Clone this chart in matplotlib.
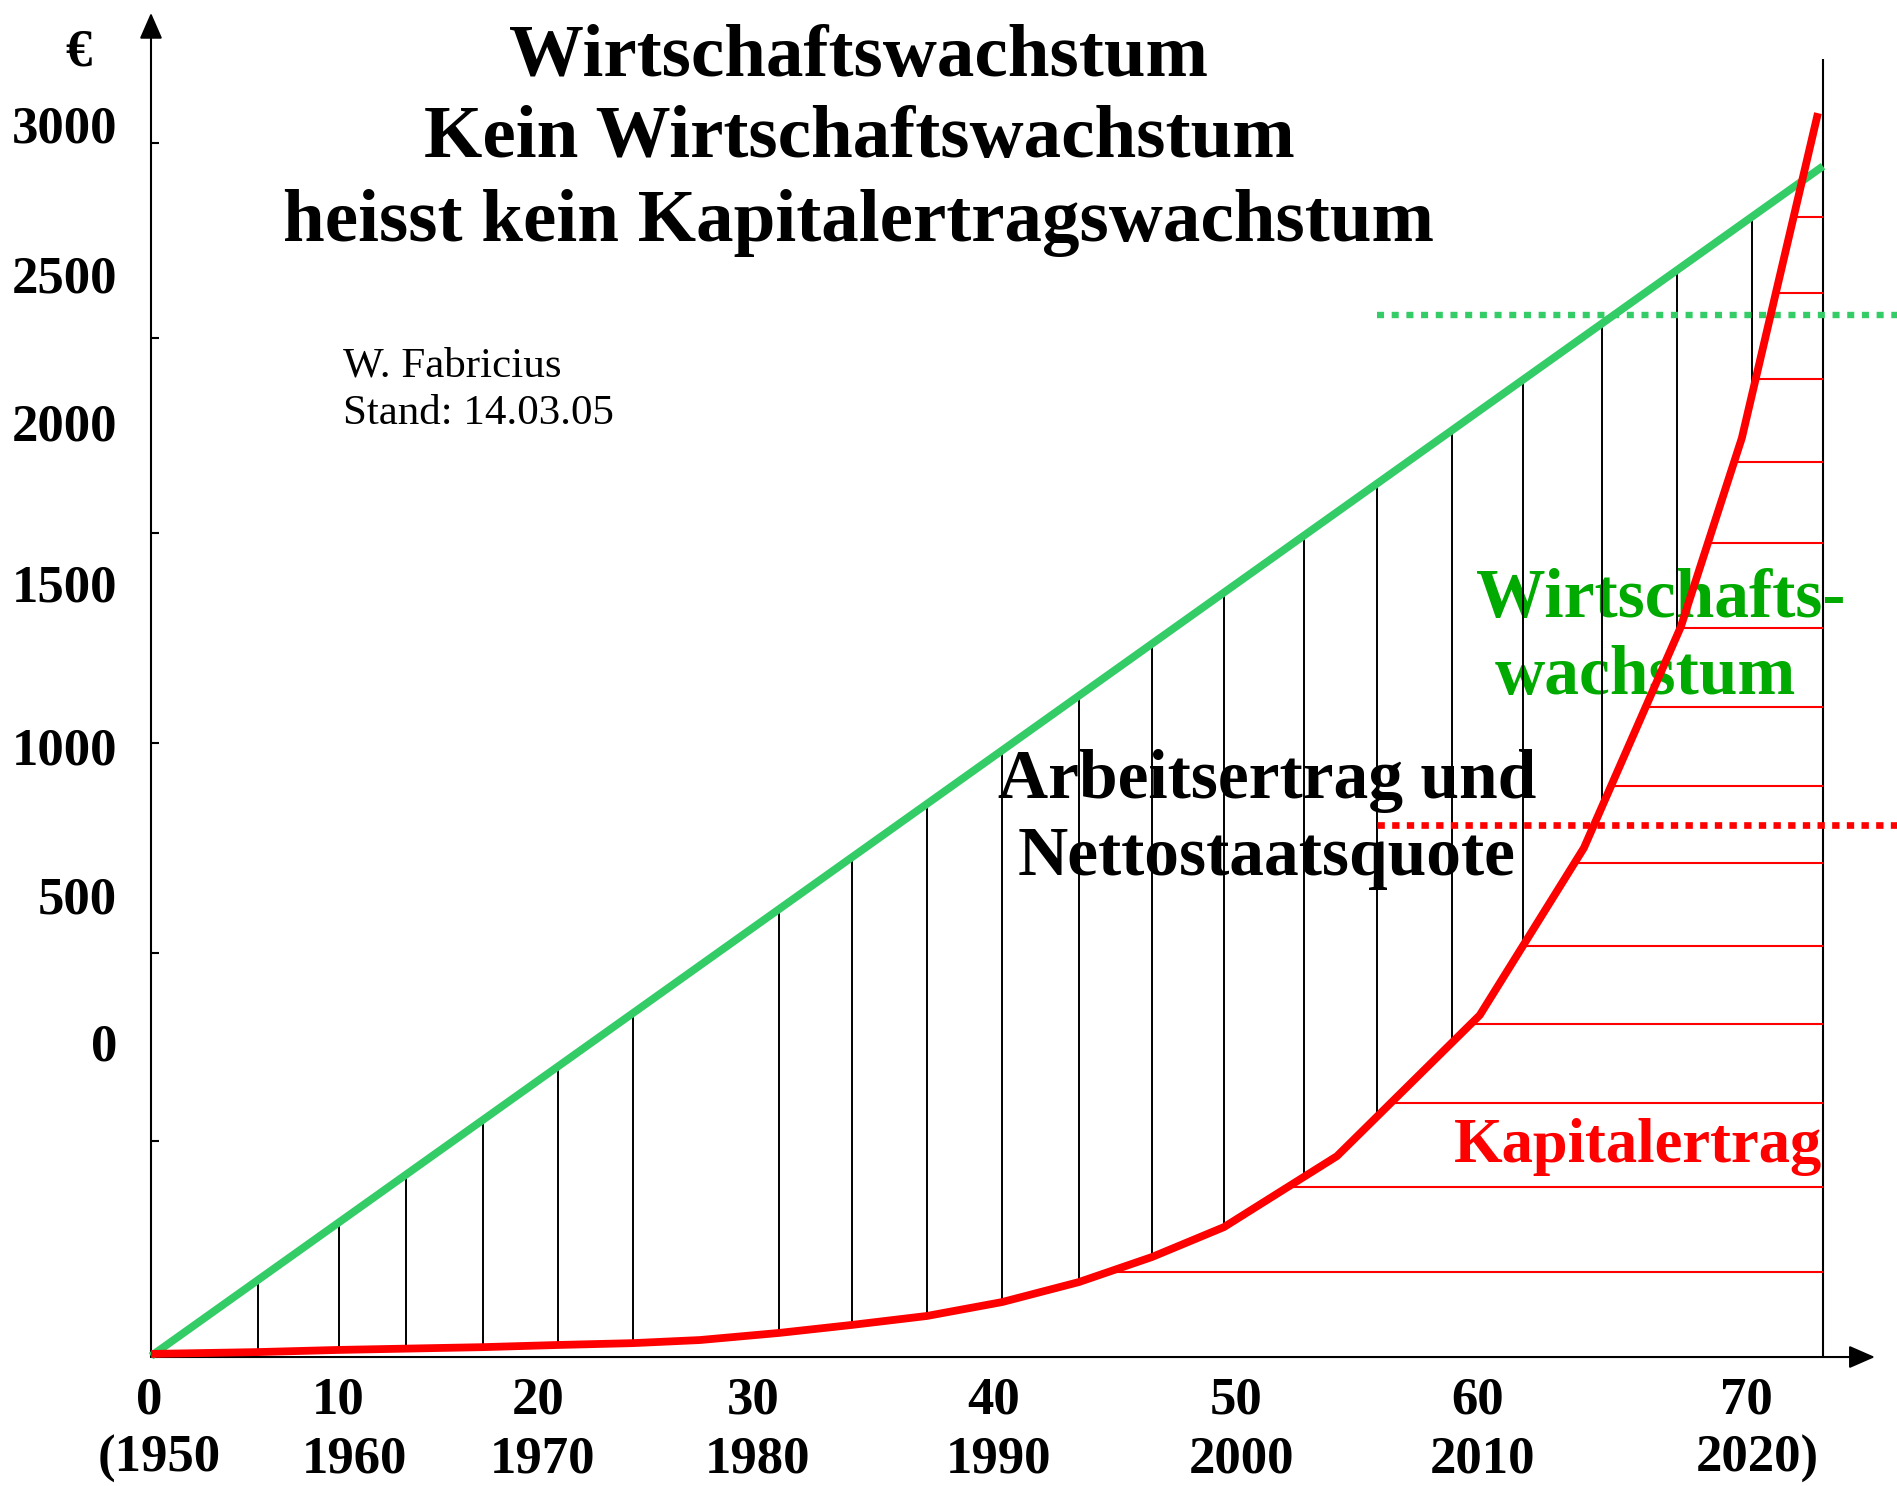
import numpy as np
import matplotlib.pyplot as plt

# x: years since 1950, y: euro (scale of the printed axis labels)
GREEN_X = [0, 73.38]
GREEN_Y = [-1000, 2856]

RED_X = [0, 4.70, 8.25, 14.57, 17.86, 21.15, 24.09, 27.56, 30.76, 34.05,
         37.35, 40.73, 43.93, 47.09, 52.05, 58.32, 62.89, 67.14, 69.82, 73.16]
RED_Y = [-993, -987, -980, -971, -964, -958, -948, -925, -899, -870,
         -825, -760, -679, -582, -352, 105, 647, 1363, 1975, 3028]

# black hatching (labour income) and red hatching (capital income)
HATCH_X = [4.70, 8.25, 11.19, 14.57, 17.86, 21.15, 27.56, 30.76, 34.05, 37.35,
           40.73, 43.93, 47.09, 50.60, 53.81, 57.10, 60.21, 63.68, 66.97, 70.26]
HATCH_Y = [2691, 2445, 2166, 1897, 1635, 1359, 1103, 847, 598, 329,
           76, -180, -452, -728]

GREEN_LEVEL = 2374
RED_LEVEL = 721
LEVEL_START = 53.8

AXIS_Y = -1003
AXIS_TOP = 3353
AXIS_RIGHT = 75.66
END_X = 73.38
END_TOP = 3204

Y_LABELS = ["3000", "2500", "2000", "1500", "1000", "500", "0"]
Y_LABEL_POS = [2990, 2504, 2024, 1505, 974, 491, 15]
Y_TICK_MARKS = [2931, 2299, 1667, 987, 306, -303]

X_LABELS = ["0", "10", "20", "30", "40", "50", "60", "70"]
YEAR_LABELS = ["(1950", "1960", "1970", "1980", "1990", "2000", "2010", "2020)"]
X_LABEL_POS = [-0.09, 8.2, 16.98, 26.42, 37.0, 47.62, 58.24, 70.04]
YEAR_LABEL_POS = [0.35, 8.95, 17.2, 26.6, 37.2, 47.84, 58.46, 70.48]

TITLE_LINES = ["Wirtschaftswachstum",
               "Kein Wirtschaftswachstum",
               "heisst kein Kapitalertragswachstum"]

GREEN = "#33cc66"
GREEN_TEXT = "#00aa00"
RED = "#ff0000"

plt.rcParams["font.family"] = ["Liberation Serif", "DejaVu Serif"]


def main() -> None:
    fig = plt.figure(figsize=(18.97, 14.86), dpi=100)
    ax = fig.add_axes([0, 0, 1, 1])
    ax.set_xlim(-6.627, 76.63)
    ax.set_ylim(-1421, 3394.7)
    ax.axis("off")

    # axes with arrows
    arrow = dict(arrowstyle="-|>,head_length=0.8,head_width=0.35",
                 lw=1.5, color="black", shrinkA=0, shrinkB=0,
                 mutation_scale=20)
    ax.annotate("", xy=(0, AXIS_TOP), xytext=(0, AXIS_Y), arrowprops=arrow)
    ax.annotate("", xy=(AXIS_RIGHT, AXIS_Y), xytext=(0, AXIS_Y), arrowprops=arrow)
    ax.hlines(Y_TICK_MARKS, 0, 0.35, color="black", lw=1.5)
    ax.vlines(END_X, AXIS_Y, END_TOP, color="black", lw=1.5)

    # hatching between the curves
    for x in HATCH_X:
        y0 = np.interp(x, RED_X, RED_Y)
        y1 = np.interp(x, GREEN_X, GREEN_Y)
        ax.vlines(x, y0, y1, color="black", lw=1.4, zorder=3)

    for y in HATCH_Y:
        x0 = np.interp(y, RED_Y, RED_X)
        ax.hlines(y, x0, END_X, color=RED, lw=1.5, zorder=3)

    # dotted levels
    ax.plot([LEVEL_START, 76.63], [GREEN_LEVEL, GREEN_LEVEL], color=GREEN,
            lw=4.6, linestyle=(0, (1.1, 1.2)), zorder=4)
    ax.plot([LEVEL_START, 76.63], [RED_LEVEL, RED_LEVEL], color=RED,
            lw=4.8, linestyle=(0, (1.1, 1.1)), zorder=4)

    # main curves
    ax.plot(GREEN_X, GREEN_Y, color=GREEN, lw=5.6, solid_capstyle="butt", zorder=5)
    ax.plot(RED_X, RED_Y, color=RED, lw=5.6, solid_capstyle="butt",
            solid_joinstyle="round", zorder=5)

    # axis labels
    ax.text(-3.16, 3184, "€", fontsize=38, fontweight="bold", ha="center", va="baseline")
    for label, pos in zip(Y_LABELS, Y_LABEL_POS):
        ax.text(-1.49, pos - 58, label, fontsize=38, fontweight="bold",
                ha="right", va="baseline")
    for label, pos in zip(X_LABELS, X_LABEL_POS):
        ax.text(pos, -1185, label, fontsize=38, fontweight="bold",
                ha="center", va="baseline")
    for label, pos in zip(YEAR_LABELS, YEAR_LABEL_POS):
        ax.text(pos, -1376, label, fontsize=38, fontweight="bold",
                ha="center", va="baseline")

    # title and annotations
    for line, y in zip(TITLE_LINES, [3148, 2886, 2614]):
        ax.text(31.07, y, line, fontsize=54, fontweight="bold",
                ha="center", va="baseline")

    ax.text(8.43, 2176, "W. Fabricius", fontsize=31, ha="left", va="baseline")
    ax.text(8.43, 2021, "Stand: 14.03.05", fontsize=31, ha="left", va="baseline")

    ax.text(66.27, 1395, "Wirtschafts-", fontsize=50, fontweight="bold",
            color=GREEN_TEXT, ha="center", va="baseline", zorder=2)
    ax.text(65.61, 1145, "wachstum", fontsize=50, fontweight="bold",
            color=GREEN_TEXT, ha="center", va="baseline", zorder=2)

    ax.text(48.98, 809, "Arbeitsertrag und", fontsize=50, fontweight="bold",
            ha="center", va="baseline", zorder=2)
    ax.text(48.98, 559, "Nettostaatsquote", fontsize=50, fontweight="bold",
            ha="center", va="baseline", zorder=2)

    ax.text(73.33, -371, "Kapitalertrag", fontsize=45, fontweight="bold",
            color=RED, ha="right", va="baseline", zorder=2)

    fig.savefig("out.png", dpi=100)
    plt.close(fig)


if __name__ == "__main__":
    main()
